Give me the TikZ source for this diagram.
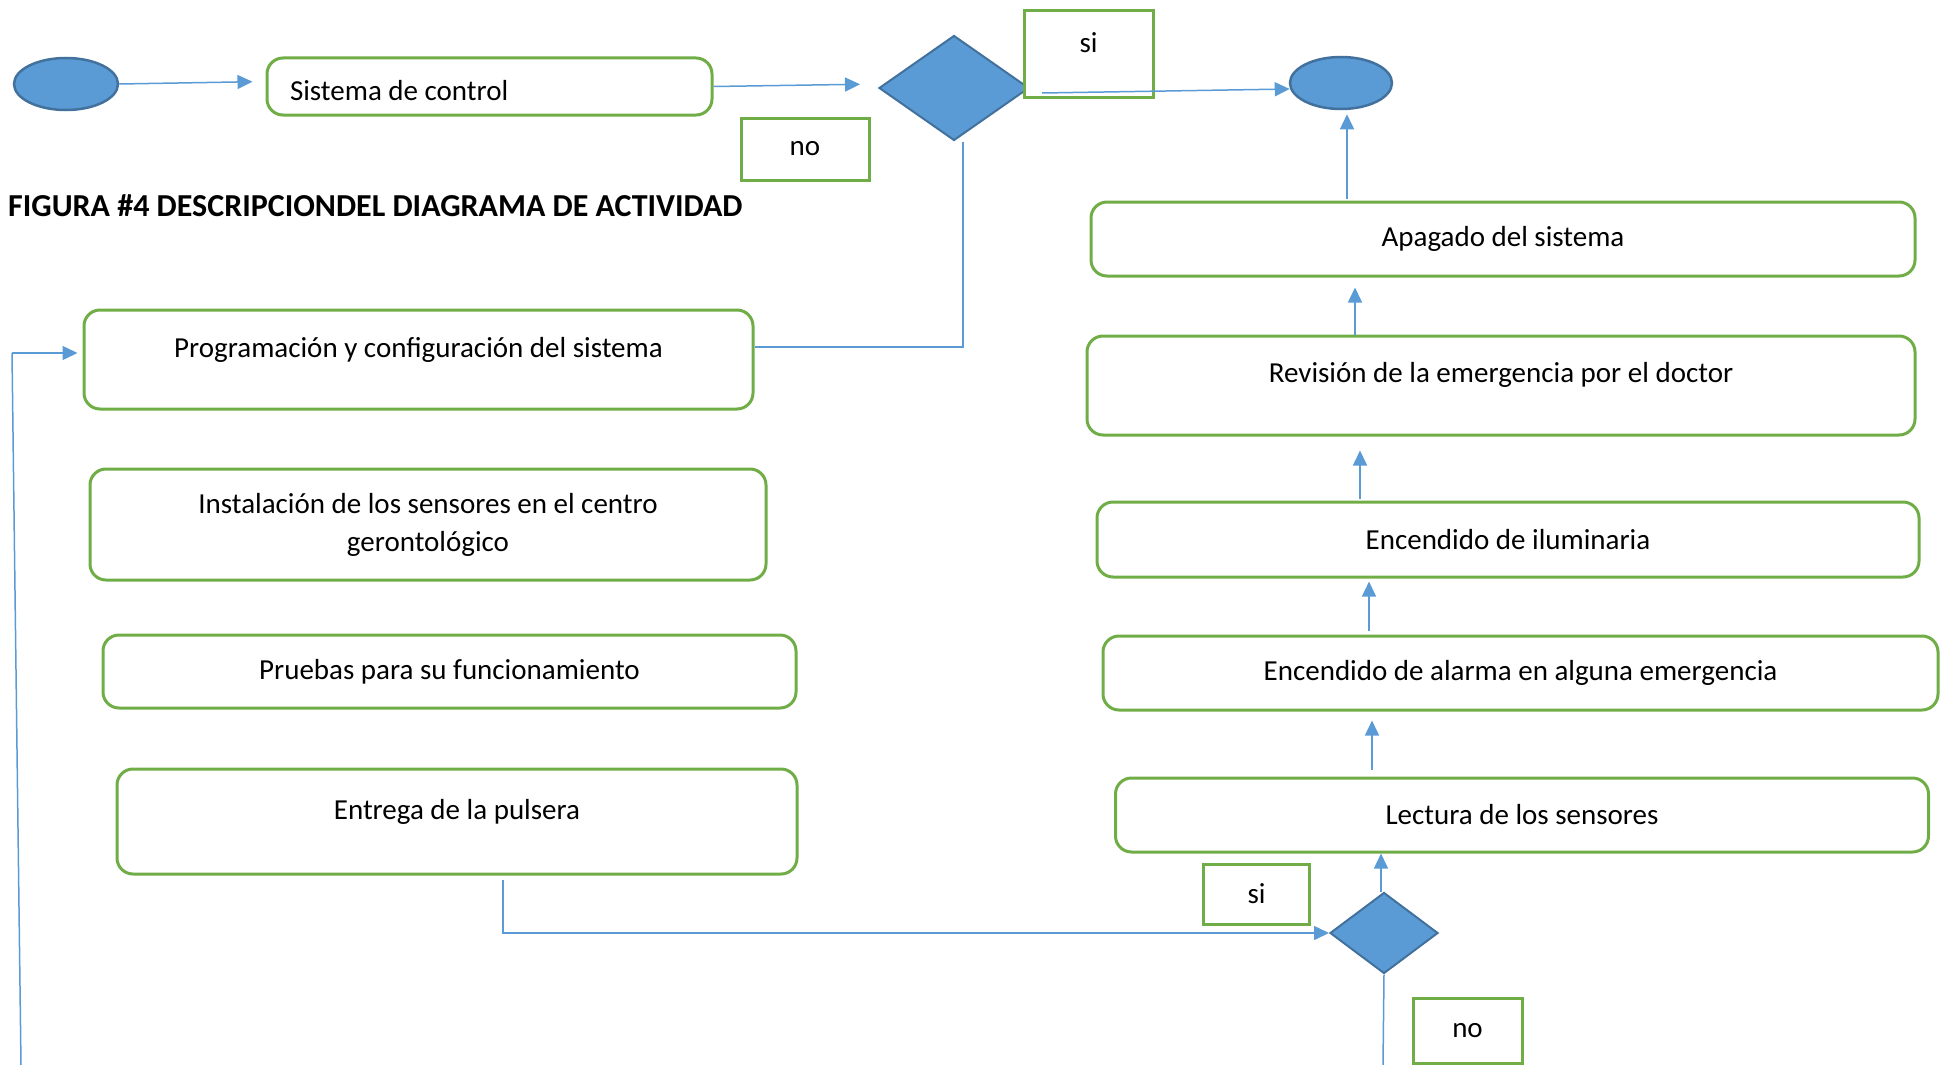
\documentclass[tikz,border=0pt]{standalone}
\usepackage{fontspec}
\setmainfont{Carlito}
\usetikzlibrary{shapes.geometric,arrows.meta,calc}
\definecolor{boxgreen}{HTML}{70AD47}
\definecolor{fillblue}{HTML}{5B9BD5}
\definecolor{edgeblue}{HTML}{41719C}
\definecolor{linkblue}{HTML}{5B9BD5}
\newcommand\shiftedtext[2]{\raisebox{#1}[\height][\depth]{#2}}
\begin{document}
\begin{tikzpicture}[x=1pt,y=-1pt,
  every node/.style={font=\fontsize{29}{38}\selectfont},
  actbox/.style={draw=boxgreen, line width=3pt, rounded corners=16pt, inner sep=0pt, align=center},
  tagbox/.style={draw=boxgreen, line width=3pt, fill=white, inner sep=0pt},
  startend/.style={ellipse, fill=fillblue, draw=edgeblue, line width=2.5pt, inner sep=0pt},
  decision/.style={diamond, fill=fillblue, draw=edgeblue, line width=2pt, inner sep=0pt},
  link/.style={draw=linkblue, line width=1.5pt},
  arr/.style={link, -{Triangle[length=15pt,width=14pt]}},
]
\useasboundingbox (0,0) rectangle (1944,1065);

% start / end
\node[startend, minimum width=104pt, minimum height=52pt] (start) at (66,84) {};
\node[startend, minimum width=102pt, minimum height=52pt] (fin) at (1341,83) {};

% activity boxes
\node[actbox, minimum width=445pt, minimum height=57pt] (sistema) at (489.5,86.5) {\shiftedtext{-4pt}{\makebox[399pt][l]{Sistema de control}}};
\node[actbox, minimum width=669pt, minimum height=99pt] (prog) at (418.5,359.5) {\shiftedtext{10pt}{Programación y configuración del sistema}};
\node[actbox, minimum width=676pt, minimum height=111pt] (inst) at (428,524.5) {Instalación de los sensores en el centro\\gerontológico};
\node[actbox, minimum width=693pt, minimum height=73pt] (pruebas) at (449.5,671.5) {Pruebas para su funcionamiento};
\node[actbox, minimum width=680pt, minimum height=105pt] (entrega) at (457,821.5) {\shiftedtext{10pt}{Entrega de la pulsera}};

\node[actbox, minimum width=824pt, minimum height=74pt] (apagado) at (1503,239) {Apagado del sistema};
\node[actbox, minimum width=828pt, minimum height=99pt] (revision) at (1501,385.5) {\shiftedtext{11pt}{Revisión de la emergencia por el doctor}};
\node[actbox, minimum width=822pt, minimum height=75pt] (ilum) at (1508,539.5) {Encendido de iluminaria};
\node[actbox, minimum width=835pt, minimum height=74pt] (alarma) at (1520.5,673) {Encendido de alarma en alguna emergencia};
\node[actbox, minimum width=813pt, minimum height=74pt] (lectura) at (1522,815) {Lectura de los sensores};

% decisions
\node[decision, minimum width=150pt, minimum height=105pt] (d1) at (954,88) {};
\node[decision, minimum width=108pt, minimum height=81pt] (d2) at (1384,933) {};

% guard labels
\node[tagbox, minimum width=129pt, minimum height=86pt] (si1) at (1088.5,54) {\shiftedtext{11pt}{si}};
\node[tagbox, minimum width=128pt, minimum height=62pt] (no1) at (805,149) {no};
\node[tagbox, minimum width=106pt, minimum height=60pt] (si2) at (1256.5,894) {si};
\node[tagbox, minimum width=109pt, minimum height=65pt] (no2) at (1467.5,1030.5) {no};

% title
\node[anchor=west, inner sep=0pt, font=\bfseries\fontsize{32}{38}\selectfont] (title) at (8,206) {FIGURA \#4 DESCRIPCIONDEL DIAGRAMA DE ACTIVIDAD};

% helper coordinates
\coordinate (fbB) at (21,1065);
\coordinate (fbT) at (12,353);
\coordinate (noEnd) at (1383,1065);
\coordinate (cxA) at (1372,0);
\coordinate (cxB) at (1369,0);
\coordinate (cxC) at (1360,0);
\coordinate (cxD) at (1355,0);
\coordinate (cxE) at (1347,0);
\coordinate (cxF) at (1381,0);

% connectors
\draw[arr, shorten >=13pt] (start.east) -- ($(sistema.west)+(0,-5)$);
\draw[arr, shorten >=18pt] (sistema.east) -- ($(d1.west)+(0,-4)$);
\draw[arr] ($(d1.east)+(12,5)$) -- ($(fin.west)+(1,6)$);
\draw[link] ($(d1.south)+(9,0)$) |- ($(prog.east)+(0,-12.5)$);
\draw[link] (fbB) -- (fbT);
\draw[arr, shorten >=5pt] (fbT) -- (fbT -| prog.west);
\draw[arr] ($(entrega.south)+(46,4)$) |- (d2.west);
\draw[arr] (cxF |- d2.north) -- (cxF |- lectura.south);
\draw[link] (d2.south) -- (noEnd);
\draw[arr, shorten <=7pt, shorten >=9pt] (cxA |- lectura.north) -- (cxA |- alarma.south);
\draw[arr, shorten <=4pt, shorten >=3pt] (cxB |- alarma.north) -- (cxB |- ilum.south);
\draw[arr, shorten <=2pt, shorten >=14pt] (cxC |- ilum.north) -- (cxC |- revision.south);
\draw[arr, shorten >=10pt] (cxD |- revision.north) -- (cxD |- apagado.south);
\draw[arr, shorten <=2pt, shorten >=4pt] (cxE |- apagado.north) -- (cxE |- fin.south);
\end{tikzpicture}
\end{document}
